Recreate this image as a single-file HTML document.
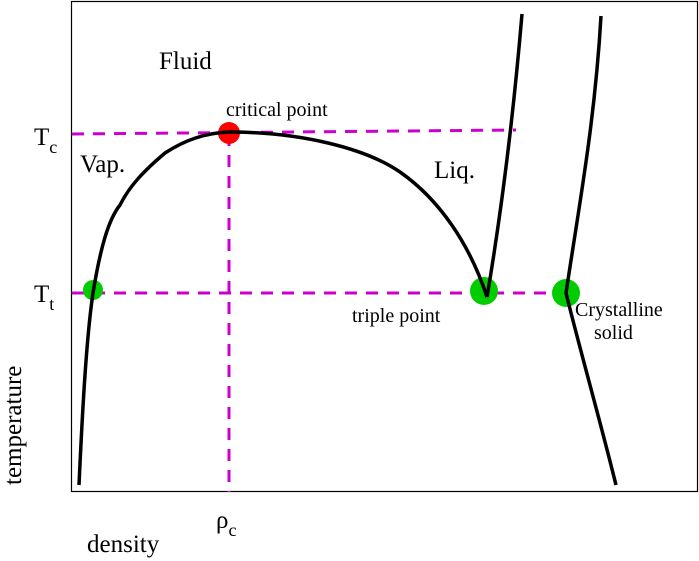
<!DOCTYPE html>
<html><head><style>body{margin:0;background:#fff}svg{display:block}</style></head><body>
<svg width="699" height="561" xmlns="http://www.w3.org/2000/svg" font-family="Liberation Serif, serif">
<rect x="71.5" y="1.5" width="626" height="490" fill="none" stroke="#000" stroke-width="1.2"/>
<g stroke="#cc00cc" stroke-width="3" stroke-dasharray="12,9" fill="none">
<line x1="72" y1="134" x2="516" y2="130"/>
<line x1="72" y1="293" x2="566" y2="293"/>
<line x1="229" y1="134" x2="229" y2="492"/>
</g>
<circle cx="229" cy="133" r="11" fill="#ff0000"/>
<circle cx="93" cy="290" r="10" fill="#00cc00"/>
<circle cx="484" cy="291" r="14" fill="#00cc00"/>
<circle cx="566" cy="293" r="14" fill="#00cc00"/>
<g stroke="#000" stroke-width="3.5" fill="none">
<path d="M79,485 C82,420 86,340 93,293 C100,250 108,220 120,205 C130,185 145,170 165,153 C185,140 205,133 229,132"/>
<path d="M229,132 C300,132 365,148 400,172 C440,200 470,245 487,297"/>
<path d="M487,297 C500,220 513,120 522,14"/>
<path d="M601,16 C595,120 580,200 566,293 C580,350 600,420 616,485"/>
</g>
<g font-size="25" fill="#000">
<text x="159" y="69">Fluid</text>
<text x="80" y="172">Vap.</text>
<text x="434" y="178">Liq.</text>
<text x="34" y="145">T<tspan font-size="18" dy="8">c</tspan></text>
<text x="34" y="302">T<tspan font-size="18" dy="8">t</tspan></text>
<text x="216" y="528">ρ<tspan font-size="18" dy="8">c</tspan></text>
<text x="87" y="552">density</text>
<text transform="translate(21,485) rotate(-90)">temperature</text>
</g>
<g font-size="20" fill="#000">
<text x="226" y="116">critical point</text>
<text x="352" y="322">triple point</text>
<text x="575" y="316">Crystalline</text>
<text x="594" y="339">solid</text>
</g>
</svg>
</body></html>
